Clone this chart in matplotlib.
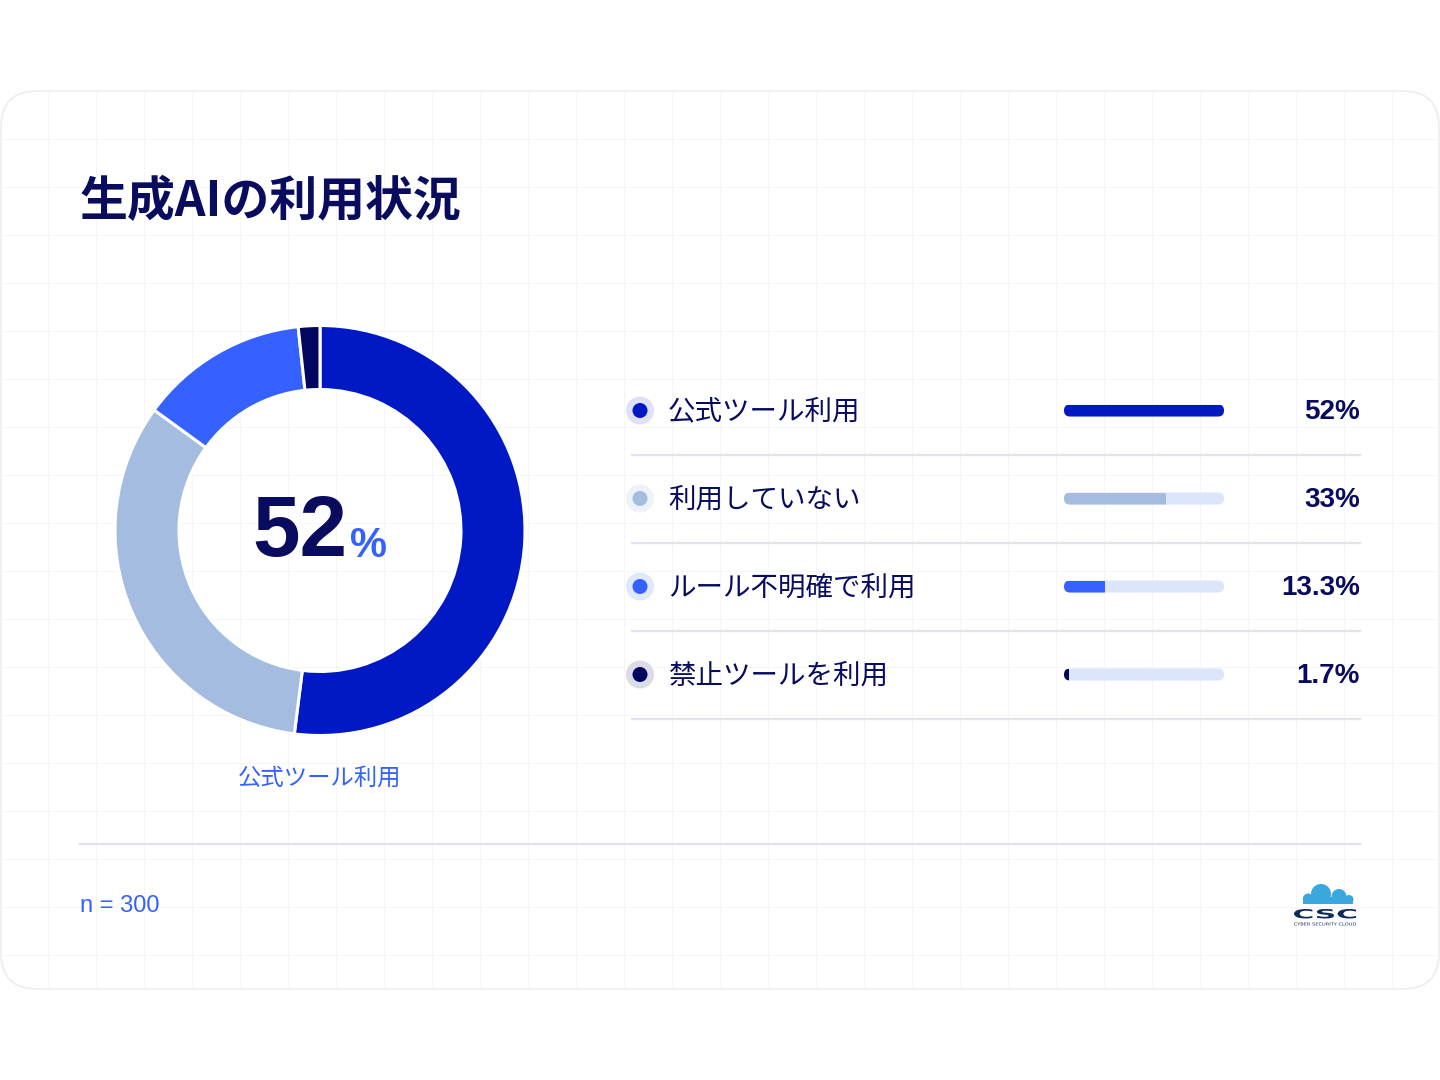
import matplotlib
matplotlib.use("Agg")
import matplotlib.pyplot as plt
from matplotlib.patches import FancyBboxPatch, Circle, Rectangle, PathPatch
from matplotlib.textpath import TextPath
from matplotlib.font_manager import FontProperties
from matplotlib.transforms import Affine2D

plt.rcParams['font.family'] = ['Noto Sans CJK JP', 'DejaVu Sans']

# ---------------- data ----------------
title = "生成AIの利用状況"
categories = ["公式ツール利用", "利用していない", "ルール不明確で利用", "禁止ツールを利用"]
values = [52, 33, 13.3, 1.7]
value_labels = ["52%", "33%", "13.3%", "1.7%"]
center_value = "52"
center_label = "公式ツール利用"
sample_note = "n = 300"

# ---------------- style ----------------
colors = ["#0019c4", "#a5bce1", "#3461ff", "#03065e"]
halo_colors = ["#dee1f7", "#eef2f9", "#e0e8fd", "#dcdce8"]
navy = "#080b5e"
accent = "#3461ff"
track_color = "#dbe6fc"
sep_color = "#e3e3ef"
grid_color = "#f6f6f9"
W, H = 1440, 1080
LATIN = ["Liberation Sans", "DejaVu Sans"]

fig = plt.figure(figsize=(14.4, 10.8), dpi=100)
fig.patch.set_facecolor("white")

bg = fig.add_axes([0, 0, 1, 1])
bg.set_xlim(0, W)
bg.set_ylim(H, 0)
bg.axis("off")

# card
card = FancyBboxPatch((1, 91), W - 2, 898, boxstyle="round,pad=0,rounding_size=36",
                      facecolor="white", edgecolor="#ececf3", linewidth=1.2, zorder=0)
bg.add_patch(card)

# faint grid inside card
for gx in range(48, W, 48):
    ln = bg.plot([gx, gx], [91, 989], color=grid_color, lw=0.8, zorder=0.5)[0]
    ln.set_clip_path(card)
for gy in range(91 + 48, 989, 48):
    ln = bg.plot([0, W], [gy, gy], color=grid_color, lw=0.8, zorder=0.5)[0]
    ln.set_clip_path(card)

# title
bg.text(80, 202, title, fontsize=34.5, fontweight="bold", color=navy,
        ha="left", va="center", zorder=5)

# ---------------- donut ----------------
cx, cy, R = 320, 530.5, 205
pax = fig.add_axes([(cx - R) / W, (H - cy - R) / H, 2 * R / W, 2 * R / H])
wedges, _ = pax.pie(values, colors=colors, startangle=90, counterclock=False,
                    radius=1, wedgeprops=dict(width=64 / 205, edgecolor="white",
                                              linewidth=2.2))
pax.set_xlim(-1, 1)
pax.set_ylim(-1, 1)
pax.axis("off")
pax.patch.set_alpha(0)

bg.text(347, 556, center_value, fontsize=61.5, fontweight="bold", color=navy,
        ha="right", va="baseline", family=LATIN, zorder=5)
bg.text(350, 557, "%", fontsize=30, fontweight="bold", color=accent,
        ha="left", va="baseline", family=LATIN, zorder=5)
bg.text(320, 778, center_label, fontsize=16.8, color=accent,
        ha="center", va="center", zorder=5)

# ---------------- legend rows with bars ----------------
row0, row_h = 410.5, 88
bar_x0, bar_w, bar_h = 1064, 160, 12
tracks = []
for i, (cat, col, hcol, vl) in enumerate(zip(categories, colors, halo_colors, value_labels)):
    yc = row0 + i * row_h
    bg.add_patch(Circle((640, yc), 14, facecolor=hcol, edgecolor="none", zorder=3))
    bg.add_patch(Circle((640, yc), 7.5, facecolor=col, edgecolor="none", zorder=4))
    bg.text(668, yc + 1.5, cat, fontsize=19.8, color=navy, ha="left", va="center", zorder=5)
    bg.text(1360, yc + 1.5, vl, fontsize=20, fontweight="bold", color=navy,
            ha="right", va="center", family=LATIN, zorder=5)
    tr = FancyBboxPatch((bar_x0, yc - bar_h / 2), bar_w, bar_h,
                        boxstyle="round,pad=0,rounding_size=6",
                        facecolor=track_color, edgecolor="none", zorder=2)
    bg.add_patch(tr)
    tracks.append(tr)
    bg.plot([632, 1360], [yc + 44, yc + 44], color=sep_color, lw=1.6, zorder=2)

top = row0 - row_h / 2
bottom = row0 + 3 * row_h + row_h / 2
bax = fig.add_axes([bar_x0 / W, (H - bottom) / H, bar_w / W, (bottom - top) / H])
bars = bax.barh(range(len(values)), values, height=bar_h / row_h, color=colors, left=0)
bax.set_xlim(0, max(values))
bax.set_ylim(len(values) - 0.5, -0.5)
bax.axis("off")
bax.patch.set_alpha(0)
for b, tr in zip(bars, tracks):
    b.set_clip_path(tr)

# bottom separator and note
bg.plot([80, 1360], [844, 844], color=sep_color, lw=1.6, zorder=2)
bg.text(80, 906, sample_note, fontsize=17, color=accent, ha="left", va="center",
        family=LATIN, zorder=5)

# ---------------- logo ----------------
cloud = "#3aa8df"
for (lx, ly, lr) in [(1321, 894, 10), (1339, 896.5, 7.5), (1308, 898.5, 5), (1349, 899.5, 4.5)]:
    bg.add_patch(Circle((lx, ly), lr, facecolor=cloud, edgecolor="none", zorder=5))
bg.add_patch(Rectangle((1303, 897), 50, 6.5, facecolor=cloud, edgecolor="none", zorder=5))


def stretched_text(s, x0, y0, w, h, color, weight="bold"):
    tp = TextPath((0, 0), s, size=10, prop=FontProperties(family="DejaVu Sans", weight=weight))
    ext = tp.get_extents()
    sx = w / ext.width
    sy = h / ext.height
    tr = Affine2D().translate(-ext.x0, -ext.y0).scale(sx, -sy).translate(x0, y0 + h)
    path = tr.transform_path(tp)
    bg.add_patch(PathPatch(path, facecolor=color, edgecolor="none", zorder=6))


stretched_text("CSC", 1294, 909, 62, 9.5, "#0e2a5a")
stretched_text("CYBER SECURITY CLOUD", 1294, 922.5, 62, 3, "#0e2a5a", weight="normal")

fig.savefig("out.png", dpi=100, facecolor="white")
